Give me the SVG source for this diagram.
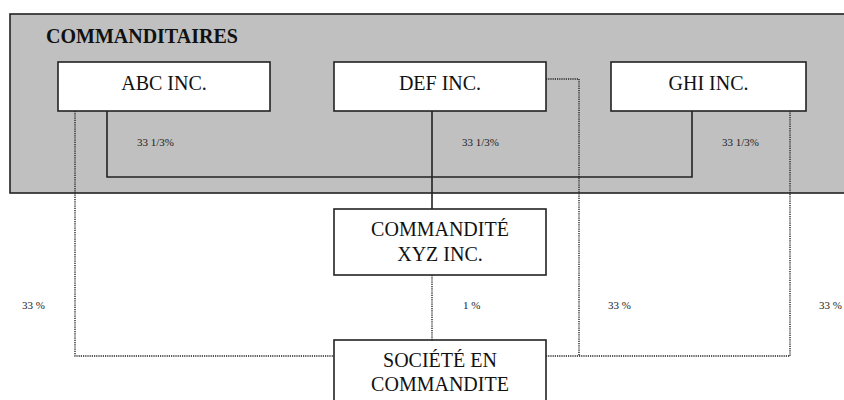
<svg xmlns="http://www.w3.org/2000/svg" width="844" height="400" viewBox="0 0 844 400">
<style>
.box{fill:#fff;stroke:#222;stroke-width:1.6}
.t{font-family:"Liberation Serif","Times New Roman",serif;font-size:20px;fill:#111;text-anchor:middle}
.s{font-family:"Liberation Serif","Times New Roman",serif;font-size:11px;fill:#222}
.solid{fill:none;stroke:#222;stroke-width:1.6}
.dot{fill:none;stroke:#222;stroke-width:1.4;stroke-dasharray:1.2 1}
</style>
<rect x="10" y="14" width="840" height="179" fill="#c0c0c0" stroke="#222" stroke-width="1.6"/>
<text x="46" y="43" font-family="Liberation Serif,Times New Roman,serif" font-weight="bold" font-size="20" fill="#111">COMMANDITAIRES</text>
<g id="connectors">
<polyline class="solid" points="107,111 107,177 692,177 692,111"/>
<line class="solid" x1="432" y1="111" x2="432" y2="209"/>
<polyline class="dot" points="75,111 75,356 334,356"/>
<polyline class="dot" points="546,79 579,79 579,356"/>
<polyline class="dot" points="546,356 790,356 790,111"/>
<line class="dot" x1="432" y1="275" x2="432" y2="340"/>
</g>
<g id="labels">
<text class="s" x="137" y="146">33 1/3%</text>
<text class="s" x="462" y="146">33 1/3%</text>
<text class="s" x="722" y="146">33 1/3%</text>
<text class="s" x="22" y="309">33 %</text>
<text class="s" x="463" y="309">1 %</text>
<text class="s" x="608" y="309">33 %</text>
<text class="s" x="819" y="309">33 %</text>
</g>
<g id="abc"><rect class="box" x="58" y="62" width="212" height="49"/><text class="t" x="164" y="90">ABC INC.</text></g>
<g id="def"><rect class="box" x="334" y="62" width="212" height="49"/><text class="t" x="440" y="90">DEF INC.</text></g>
<g id="ghi"><rect class="box" x="611" y="62" width="195" height="49"/><text class="t" x="708.5" y="90">GHI INC.</text></g>
<g id="xyz"><rect class="box" x="334" y="209" width="212" height="66"/><text class="t" x="440" y="236">COMMANDITÉ</text><text class="t" x="440" y="261">XYZ INC.</text></g>
<g id="societe"><rect class="box" x="334" y="340" width="212" height="70"/><text class="t" x="440" y="367">SOCIÉTÉ EN</text><text class="t" x="440" y="391">COMMANDITE</text></g>
</svg>
